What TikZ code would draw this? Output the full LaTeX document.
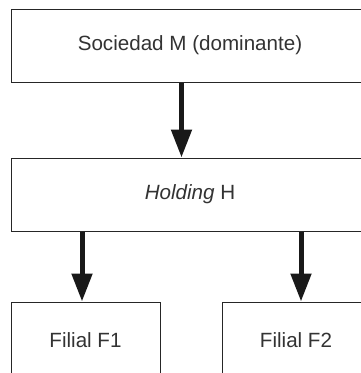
\documentclass[tikz,border=0pt]{standalone}
\usepackage{fontspec}
\setmainfont{Liberation Sans}
\usetikzlibrary{arrows.meta}
\begin{document}
\begin{tikzpicture}[x=1pt,y=-1pt,
  box/.style={draw=black!85,line width=1pt,fill=white,inner sep=0pt,
    text=black!80,font=\fontsize{20.6}{24}\selectfont},
  arr/.style={draw=black!90,line width=5pt,
    -{Triangle[length=28pt 0 0,width=20pt 0 0]}}]
\useasboundingbox (0,0) rectangle (361,373);
\clip (0,0) rectangle (361,373);
\node[box,minimum width=358pt,minimum height=73pt] (top) at (190,45.5) {Sociedad M (dominante)};
\node[box,minimum width=358pt,minimum height=73pt] (mid) at (190,194.5) {\textit{Holding} H};
\node[box,minimum width=149pt,minimum height=76pt] (f1) at (85.5,340) {Filial F1};
\node[box,minimum width=148pt,minimum height=76pt] (f2) at (296,340) {Filial F2};
\coordinate (a0) at (181.5,0);
\coordinate (a1) at (82,0);
\coordinate (a2) at (301,0);
\draw[arr] (a0 |- top.south) -- (a0 |- mid.north);
\draw[arr] (a1 |- mid.south) -- (a1 |- f1.north);
\draw[arr] (a2 |- mid.south) -- (a2 |- f2.north);
\end{tikzpicture}
\end{document}
